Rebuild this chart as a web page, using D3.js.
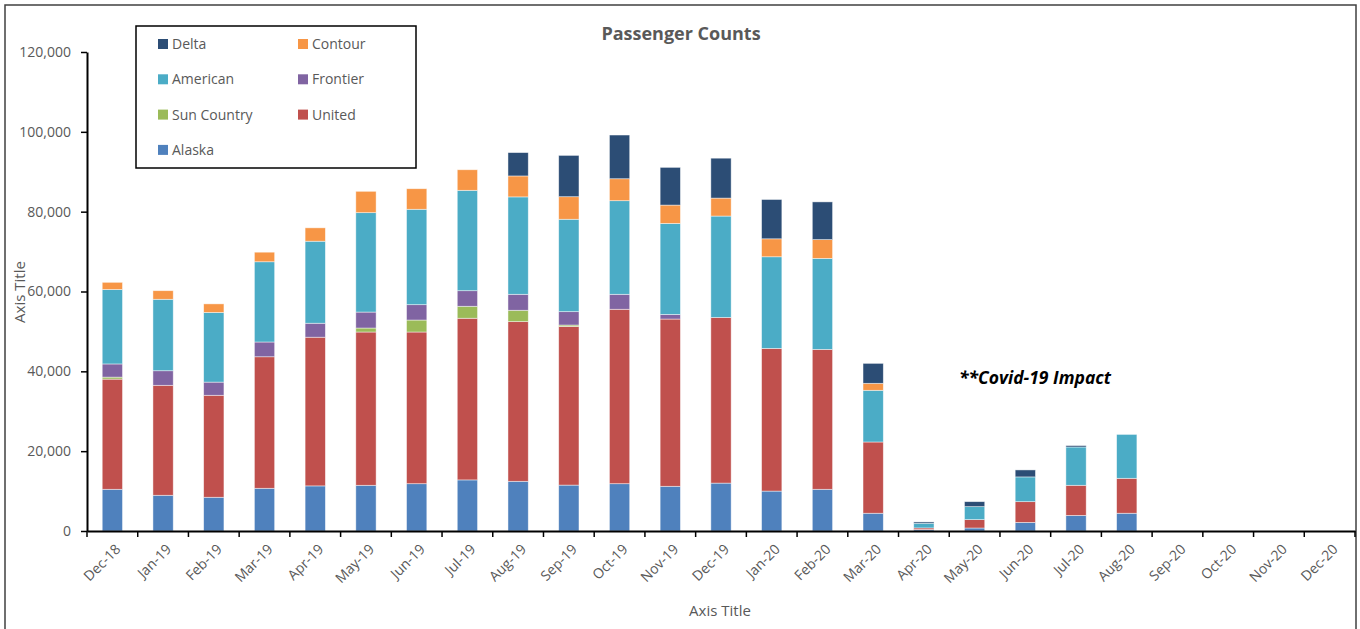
<!DOCTYPE html>
<html>
<head>
<meta charset="utf-8">
<script src="https://cdn.jsdelivr.net/npm/d3@7"></script>
<style>
  body { margin: 0; background: #fff; }
  text { font-family: "Open Sans", "Noto Sans", sans-serif; }
</style>
</head>
<body>
<div id="chart"></div>
<script>
// months on the x axis
const months = ["Dec-18", "Jan-19", "Feb-19", "Mar-19", "Apr-19", "May-19", "Jun-19", "Jul-19",
  "Aug-19", "Sep-19", "Oct-19", "Nov-19", "Dec-19", "Jan-20", "Feb-20", "Mar-20", "Apr-20",
  "May-20", "Jun-20", "Jul-20", "Aug-20", "Sep-20", "Oct-20", "Nov-20", "Dec-20"];

// passenger counts per carrier
const alaska     = [10450, 8950, 8450, 10700, 11300, 11450, 11850, 12800, 12450, 11500, 11850, 11200, 12000, 10000, 10450, 4450, 350, 750, 2150, 3900, 4450, 0, 0, 0, 0];
const united     = [27600, 27550, 25550, 32950, 37250, 38400, 38000, 40500, 40000, 39750, 43700, 41900, 41500, 35750, 35050, 17850, 420, 2100, 5200, 7550, 8750, 0, 0, 0, 0];
const sunCountry = [500, 0, 0, 0, 0, 1000, 3000, 3000, 2850, 350, 0, 0, 0, 0, 0, 0, 0, 0, 0, 0, 0, 0, 0, 0, 0];
const frontier   = [3300, 3650, 3300, 3700, 3500, 4000, 3850, 3900, 4000, 3350, 3750, 1150, 0, 0, 0, 0, 0, 0, 0, 0, 0, 0, 0, 0, 0];
const american   = [18650, 17900, 17450, 20100, 20550, 24900, 23900, 25150, 24400, 23150, 23450, 22800, 25400, 22950, 22800, 12950, 1170, 3250, 6200, 9600, 11000, 0, 0, 0, 0];
const contour    = [1800, 2150, 2150, 2400, 3350, 5350, 5150, 5150, 5250, 5650, 5500, 4600, 4500, 4500, 4700, 1750, 0, 0, 0, 0, 0, 0, 0, 0, 0];
const delta      = [0, 0, 0, 0, 0, 0, 0, 0, 5850, 10350, 10950, 9450, 10000, 9850, 9450, 5000, 330, 1250, 1750, 350, 0, 0, 0, 0, 0];

const yTicks = [0, 20000, 40000, 60000, 80000, 100000, 120000];

// stack order bottom -> top
const series = [
  { key: "Alaska", values: alaska, color: "#4F81BD" },
  { key: "United", values: united, color: "#C0504D" },
  { key: "Sun Country", values: sunCountry, color: "#9BBB59" },
  { key: "Frontier", values: frontier, color: "#8064A2" },
  { key: "American", values: american, color: "#4BACC6" },
  { key: "Contour", values: contour, color: "#F79646" },
  { key: "Delta", values: delta, color: "#2C4D75" }
];

const W = 1360, H = 629;
const plot = { left: 87, right: 1355, top: 52, bottom: 531 };

const svg = d3.select("#chart").append("svg")
  .attr("width", W).attr("height", H);

// outer chart border
svg.append("rect")
  .attr("x", 5).attr("y", 5).attr("width", 1351).attr("height", 640)
  .attr("fill", "none").attr("stroke", "#404040").attr("stroke-width", 1.5);

const rows = months.map((m, i) => {
  const r = { month: m };
  series.forEach(s => { r[s.key] = s.values[i]; });
  return r;
});

const stack = d3.stack().keys(series.map(s => s.key));
const stacked = stack(rows);

const x = d3.scaleBand()
  .domain(months)
  .range([plot.left, plot.right])
  .paddingInner(0.6)
  .paddingOuter(0.3);

const y = d3.scaleLinear()
  .domain([0, 120000])
  .range([plot.bottom, plot.top]);

const color = d3.scaleOrdinal()
  .domain(series.map(s => s.key))
  .range(series.map(s => s.color));

// bars
svg.append("g")
  .selectAll("g")
  .data(stacked)
  .join("g")
  .attr("fill", d => color(d.key))
  .selectAll("rect")
  .data(d => d.filter(p => p[1] - p[0] > 0))
  .join("rect")
  .attr("x", d => x(d.data.month))
  .attr("width", x.bandwidth())
  .attr("y", d => y(d[1]))
  .attr("height", d => y(d[0]) - y(d[1]))
  .attr("stroke", "#ffffff")
  .attr("stroke-opacity", 0.6)
  .attr("stroke-width", 0.75);

// Y axis
const yAxis = svg.append("g")
  .attr("transform", `translate(${plot.left},0)`)
  .call(d3.axisLeft(y).tickValues(yTicks).tickSize(6).tickSizeOuter(0)
    .tickFormat(d3.format(",")));
yAxis.select(".domain").attr("stroke", "#000").attr("stroke-width", 2);
yAxis.selectAll(".tick line").attr("stroke", "#000").attr("stroke-width", 1.5);
yAxis.selectAll("text")
  .attr("x", -16)
  .attr("fill", "#595959")
  .style("font-size", "14px");

// X axis, ticks sit between categories
const step = x.step();
const xAxis = svg.append("g")
  .attr("transform", `translate(0,${plot.bottom})`)
  .call(d3.axisBottom(x).tickSize(0).tickSizeOuter(0));
xAxis.select(".domain").attr("stroke", "#000").attr("stroke-width", 2);
xAxis.selectAll("text")
  .attr("fill", "#595959")
  .style("font-size", "14px")
  .style("text-anchor", "end")
  .attr("dy", 0)
  .attr("transform", "translate(7,17) rotate(-45)");
xAxis.selectAll(".bound")
  .data(months.concat(["end"]))
  .join("line")
  .attr("class", "bound")
  .attr("x1", (d, i) => plot.left + i * step)
  .attr("x2", (d, i) => plot.left + i * step)
  .attr("y1", 0).attr("y2", 6)
  .attr("stroke", "#000").attr("stroke-width", 1.5);

// titles
svg.append("text")
  .attr("x", 681).attr("y", 40)
  .attr("text-anchor", "middle")
  .attr("fill", "#595959")
  .style("font-size", "18px").style("font-weight", "bold")
  .text("Passenger Counts");

svg.append("text")
  .attr("x", 720).attr("y", 616)
  .attr("text-anchor", "middle")
  .attr("fill", "#595959")
  .style("font-size", "15px")
  .text("Axis Title");

svg.append("text")
  .attr("transform", "translate(25,292) rotate(-90)")
  .attr("text-anchor", "middle")
  .attr("fill", "#595959")
  .style("font-size", "15px")
  .text("Axis Title");

svg.append("text")
  .attr("x", 959).attr("y", 384)
  .attr("fill", "#000")
  .style("font-size", "17.5px").style("font-weight", "bold").style("font-style", "italic")
  .text("**Covid-19 Impact");

// legend
const legendOrder = ["Delta", "Contour", "American", "Frontier", "Sun Country", "United", "Alaska"];
const legend = svg.append("g");
legend.append("rect")
  .attr("x", 136).attr("y", 26).attr("width", 280).attr("height", 142)
  .attr("fill", "#fff").attr("stroke", "#000").attr("stroke-width", 1.5);
const item = legend.selectAll(".item")
  .data(legendOrder)
  .join("g")
  .attr("class", "item")
  .attr("transform", (d, i) => `translate(${i % 2 ? 298 : 158},${44 + Math.floor(i / 2) * 35.3})`);
item.append("rect")
  .attr("x", 0).attr("y", -5).attr("width", 10).attr("height", 10)
  .attr("fill", d => color(d));
item.append("text")
  .attr("x", 14).attr("y", 5)
  .attr("fill", "#595959")
  .style("font-size", "14px")
  .text(d => d);
</script>
</body>
</html>
